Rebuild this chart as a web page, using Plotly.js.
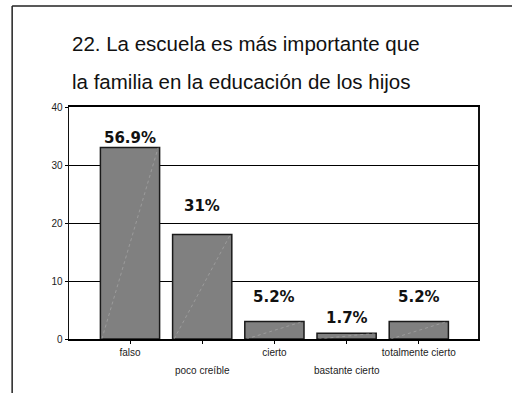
<!DOCTYPE html>
<html>
<head>
<meta charset="utf-8">
<script src="https://cdn.plot.ly/plotly-3.0.1.min.js"></script>
<style>html,body{margin:0;padding:0;background:#fff;}#chart{width:512px;height:393px;}</style>
</head>
<body>
<div id="chart"></div>
<script>
// ---- data ----
var categories = ["falso", "poco creíble", "cierto", "bastante cierto", "totalmente cierto"];
var counts = [33, 18, 3, 1, 3];
var pctLabels = ["56.9%", "31%", "5.2%", "1.7%", "5.2%"];
var labelY = [34.7, 22.9, 7.3, 3.6, 7.3];
var yTicks = [0, 10, 20, 30, 40];
var titleLines = ["22. La escuela es más importante que", "la familia en la educación de los hijos"];

// ---- build ----
var idx = categories.map(function(_, i){ return i; });
var barW = 0.82;

var bars = {
  type: "bar", x: idx, y: counts, width: barW,
  marker: {color: "#808080", line: {color: "#1a1a1a", width: 1.5}},
  hoverinfo: "skip"
};

var dx = [], dy = [];
counts.forEach(function(v, i){
  dx.push(i - barW/2 + 0.02, i + barW/2 - 0.02, null);
  dy.push(0, v, null);
});
var diag = {
  type: "scatter", mode: "lines", x: dx, y: dy,
  line: {color: "rgba(200,200,200,0.55)", width: 0.7, dash: "dot"},
  hoverinfo: "skip"
};

var anns = [];
pctLabels.forEach(function(t, i){
  anns.push({x: i, y: labelY[i], xref: "x", yref: "y", text: t, showarrow: false,
    xanchor: "center", yanchor: "middle",
    font: {family: "DejaVu Sans", size: 15, color: "#111", weight: "bold"}});
});
categories.forEach(function(c, i){
  if (i % 2 === 1) {
    anns.push({x: i, y: -0.134, xref: "x", yref: "paper", text: c, showarrow: false,
      xanchor: "center", yanchor: "middle",
      font: {family: "Liberation Sans, Arial", size: 10, color: "#222"}});
  }
});
anns.push({x: 0.003, y: 1.272, xref: "paper", yref: "paper", text: titleLines[0], showarrow: false,
  xanchor: "left", yanchor: "middle", font: {family: "Liberation Sans, Arial", size: 20.5, color: "#111"}});
anns.push({x: 0.003, y: 1.108, xref: "paper", yref: "paper", text: titleLines[1], showarrow: false,
  xanchor: "left", yanchor: "middle", font: {family: "Liberation Sans, Arial", size: 20.5, color: "#111"}});

var shapes = [
  {type: "line", xref: "paper", yref: "paper", x0: -0.139, x1: 1.1, y0: 1.435, y1: 1.435, line: {color: "#222", width: 1.5}},
  {type: "line", xref: "paper", yref: "paper", x0: -0.139, x1: -0.139, y0: 1.435, y1: -0.3, line: {color: "#222", width: 1.5}}
];

var layout = {
  width: 512, height: 393,
  margin: {l: 69, r: 34, t: 107, b: 54},
  paper_bgcolor: "#fff", plot_bgcolor: "#fff",
  showlegend: false,
  xaxis: {
    range: [-0.845, 4.82], tickvals: idx,
    ticktext: categories.map(function(c, i){ return i % 2 === 0 ? c : ""; }),
    showgrid: false, zeroline: false,
    showline: true, linecolor: "#000", linewidth: 2, mirror: true,
    ticks: "outside", ticklen: 3, tickcolor: "#000",
    tickfont: {family: "Liberation Sans, Arial", size: 10, color: "#222"}
  },
  yaxis: {
    range: [0, 40], tickvals: yTicks,
    showgrid: true, gridcolor: "#000", gridwidth: 1, zeroline: false,
    showline: true, linecolor: "#111", linewidth: 1.5, mirror: true,
    ticks: "outside", ticklen: 3, tickcolor: "#000",
    tickfont: {family: "Liberation Sans, Arial", size: 10, color: "#222"}
  },
  annotations: anns,
  shapes: shapes
};

Plotly.newPlot("chart", [bars, diag], layout, {staticPlot: true, displayModeBar: false});
</script>
</body>
</html>
